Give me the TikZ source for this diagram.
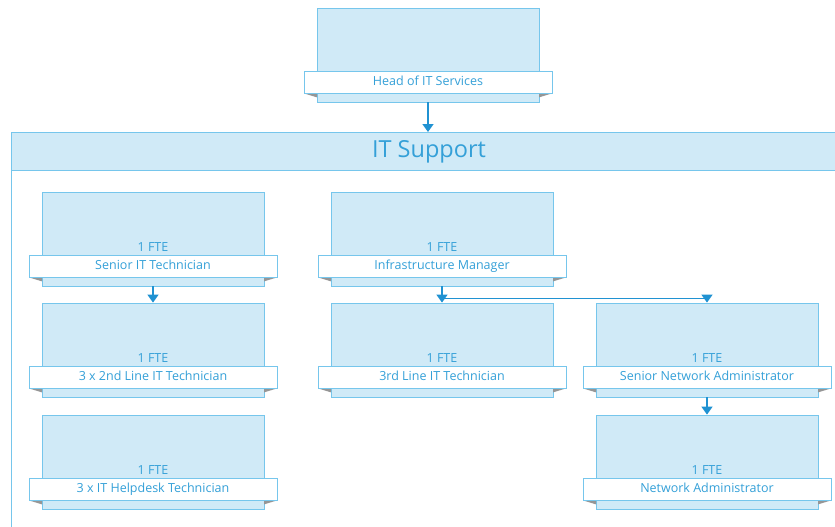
\documentclass[tikz,border=0pt]{standalone}
\usepackage{fontspec}
\setmainfont{Open Sans}
\usetikzlibrary{arrows.meta,positioning,calc}

\definecolor{cardfill}{RGB}{208,234,247}
\definecolor{cardline}{RGB}{118,198,236}
\definecolor{cardtext}{RGB}{52,160,216}
\definecolor{linkblue}{RGB}{32,146,210}
\definecolor{foldgray}{RGB}{150,150,150}

\tikzset{
  card/.style={draw=cardline, fill=cardfill, line width=0.8pt, inner sep=0pt,
    minimum width=222pt, minimum height=94pt},
  banner/.style={draw=cardline, fill=white, line width=0.8pt, inner sep=0pt,
    minimum width=248pt, minimum height=22pt, text=cardtext,
    text height=9pt, text depth=3pt,
    font=\fontsize{12.5}{14}\selectfont},
  fte/.style={text=cardtext, inner sep=0pt, anchor=base,
    font=\fontsize{12.5}{14}\selectfont},
  band/.style={draw=cardline, fill=cardfill, line width=0.8pt},
  link/.style={draw=linkblue, line width=1.5pt},
  linkarrow/.style={link, -{Triangle[width=11pt,length=8pt]}},
}

% card with ribbon: #1 name, #2 x, #3 y, #4 title
\newcommand{\orgcard}[4]{%
  \node[card] (#1) at (#2,#3) {};
  \path (#1.south) ++(0,-20) coordinate (#1r);
  \fill[foldgray] (#1r) ++(-124,11) -- ++(13,0) -- ++(0,4) -- cycle;
  \fill[foldgray] (#1r) ++(124,11) -- ++(-13,0) -- ++(0,4) -- cycle;
  \node[banner] (#1b) at (#1r) {#4};
}

\begin{document}
\begin{tikzpicture}[x=1pt,y=-1pt]
\useasboundingbox (0,0) rectangle (835,527);
\clip (0,0) rectangle (835,527);

% Drawing department frame
\draw[cardline, line width=0.8pt] (11,132) rectangle (850,540);
\node[band, minimum width=836pt, minimum height=38pt, anchor=north west,
  inner sep=0pt] (support) at (11,132) {};
\node[text=cardtext, font=\fontsize{23.5}{26}\selectfont] (supporttitle)
  at (429,152) {IT Support};

% Drawing head card
\orgcard{head}{428}{55}{Head of IT Services}

% Drawing first column
\orgcard{senior}{153}{239}{Senior IT Technician}
\orgcard{second}{153}{350}{3 x 2nd Line IT Technician}
\orgcard{helpdesk}{153}{462}{3 x IT Helpdesk Technician}

% Drawing second column
\orgcard{infra}{442}{239}{Infrastructure Manager}
\orgcard{third}{442}{350}{3rd Line IT Technician}

% Drawing third column
\orgcard{seniornet}{707}{350}{Senior Network Administrator}
\orgcard{netadmin}{707}{462}{Network Administrator}

% Marking FTE counts
\foreach \c in {senior,second,helpdesk,infra,third,seniornet,netadmin}
  \node[fte] (\c fte) at ($(\c b.north)+(0,-4)$) {1 FTE};

% Drawing reporting lines
\draw[linkarrow] (head.south) -- (head.south |- support.north);
\draw[linkarrow] (senior.south) -- (second.north);
\draw[linkarrow] (infra.south) -- (third.north);
\coordinate (split) at ($(infra.south)+(0,12)$);
\draw[link] (split) -- (split -| seniornet.north);
\draw[linkarrow] (split -| seniornet.north) -- (seniornet.north);
\draw[linkarrow] (seniornet.south) -- (netadmin.north);
\end{tikzpicture}
\end{document}
